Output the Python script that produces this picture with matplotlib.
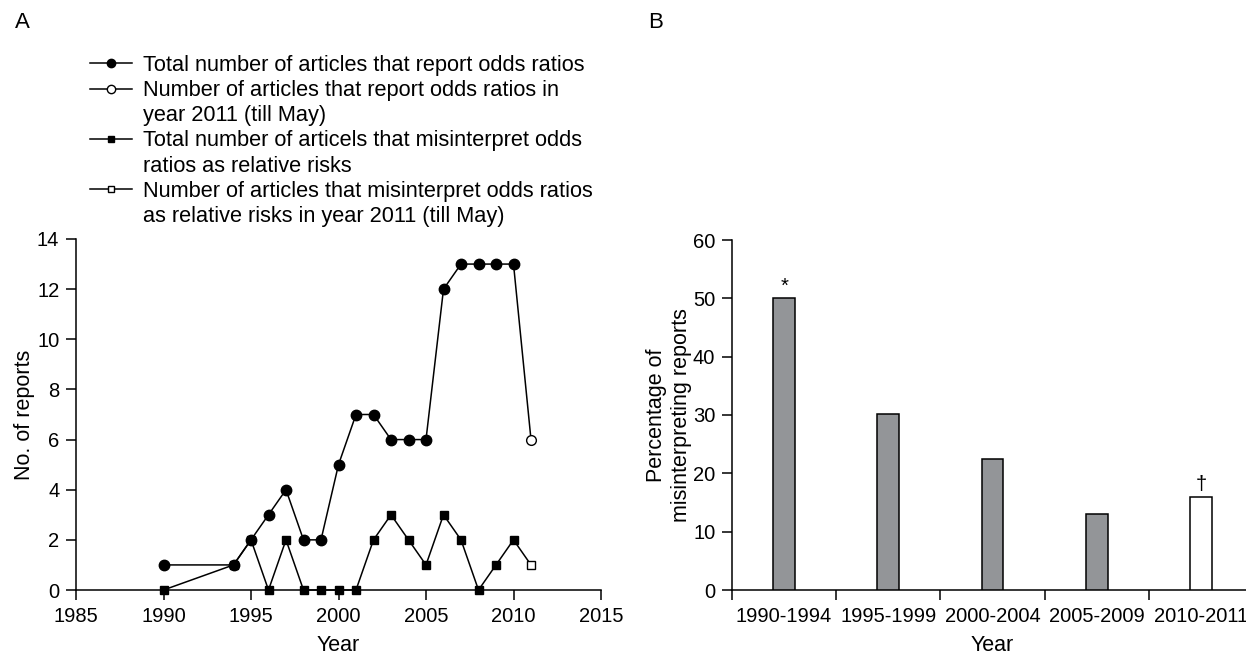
import matplotlib
matplotlib.use("Agg")
import matplotlib.pyplot as plt
from matplotlib.lines import Line2D
import numpy as np

plt.rcParams['font.family'] = ['Liberation Sans', 'DejaVu Sans']

# ---- Panel A data ----
years = [1990, 1994, 1995, 1996, 1997, 1998, 1999, 2000, 2001, 2002, 2003,
         2004, 2005, 2006, 2007, 2008, 2009, 2010, 2011]
total_or = [1, 1, 2, 3, 4, 2, 2, 5, 7, 7, 6, 6, 6, 12, 13, 13, 13, 13, 6]
misinterp = [0, 1, 2, 0, 2, 0, 0, 0, 0, 2, 3, 2, 1, 3, 2, 0, 1, 2, 1]
partial_year = 2011

legend_labels = [
    "Total number of articles that report odds ratios",
    "Number of articles that report odds ratios in",
    "year 2011 (till May)",
    "Total number of articels that misinterpret odds",
    "ratios as relative risks",
    "Number of articles that misinterpret odds ratios",
    "as relative risks in year 2011 (till May)",
]

# ---- Panel B data ----
periods = ["1990-1994", "1995-1999", "2000-2004", "2005-2009", "2010-2011"]
pct_mis = [50.0, 30.2, 22.5, 13.1, 16.0]
bar_notes = {0: "*", 4: "\u2020"}

W, H = 1246, 654
fig = plt.figure(figsize=(W / 100, H / 100), dpi=100)

def px_axes(l, t, r, b):
    return [l / W, 1 - b / H, (r - l) / W, (b - t) / H]

lw = 1.1
tick_fs = 14.5
label_fs = 15.5
gray = "#939598"

# ---------------- Panel A ----------------
axA = fig.add_axes(px_axes(76, 239, 601, 590))
yrs = np.array(years)
full = yrs != partial_year
axA.plot(years, total_or, color="black", lw=lw, zorder=3, clip_on=False)
axA.plot(years, misinterp, color="black", lw=lw, zorder=3, clip_on=False)
axA.plot(yrs[full], np.array(total_or)[full], "o", color="black", ms=7.5,
         zorder=4, clip_on=False)
axA.plot(yrs[~full], np.array(total_or)[~full], "o", mfc="white", mec="black",
         mew=1.0, ms=7, zorder=4, clip_on=False)
axA.plot(yrs[full], np.array(misinterp)[full], "s", color="black", ms=6.3,
         zorder=4, clip_on=False)
axA.plot(yrs[~full], np.array(misinterp)[~full], "s", mfc="white", mec="black",
         mew=1.0, ms=6, zorder=4, clip_on=False)

axA.set_xlim(1985, 2015)
axA.set_ylim(0, 14)
axA.set_xticks(range(1985, 2016, 5))
axA.set_yticks(range(0, 15, 2))
axA.set_xlabel("Year", fontsize=label_fs, labelpad=7)
axA.set_ylabel("No. of reports", fontsize=label_fs, labelpad=1.5)

# ---------------- Panel B ----------------
axB = fig.add_axes(px_axes(732, 240, 1253, 590))
xpos = np.arange(len(periods))
colors = [gray] * (len(periods) - 1) + ["white"]
axB.bar(xpos, pct_mis, width=0.21, color=colors, edgecolor="black",
        linewidth=lw, zorder=3)
for i, s in bar_notes.items():
    axB.text(xpos[i], pct_mis[i] + 0.5, s, ha="center", va="bottom",
             fontsize=tick_fs)
axB.set_xlim(-0.5, len(periods) - 0.5)
axB.set_ylim(0, 60)
axB.set_yticks(range(0, 61, 10))
axB.set_xticks(np.arange(-0.5, len(periods) - 1, 1.0))
axB.set_xticklabels([])
axB.set_xticks(xpos, minor=True)
axB.set_xticklabels(periods, minor=True)
axB.tick_params(axis="x", which="minor", length=0, pad=12)
axB.set_xlabel("Year", fontsize=label_fs, labelpad=7)
axB.set_ylabel("Percentage of\nmisinterpreting reports", fontsize=label_fs,
               labelpad=0.5, linespacing=1.25)

for ax in (axA, axB):
    for s in ("top", "right"):
        ax.spines[s].set_visible(False)
    for s in ("left", "bottom"):
        ax.spines[s].set_linewidth(lw)
    ax.tick_params(which="major", direction="out", length=7, width=lw,
                   labelsize=tick_fs, pad=5, colors="black")
    ax.tick_params(which="minor", labelsize=tick_fs)

# ---------------- Legend ----------------
blank = Line2D([], [], linestyle="none", marker="none")
handles = [
    Line2D([], [], color="black", lw=lw, marker="o", ms=6),
    Line2D([], [], color="black", lw=lw, marker="o", ms=6, mfc="white"),
    blank,
    Line2D([], [], color="black", lw=lw, marker="s", ms=4.5),
    blank,
    Line2D([], [], color="black", lw=lw, marker="s", ms=4.5, mfc="white"),
    blank,
]
fig.legend(handles, legend_labels, loc="upper left",
           bbox_to_anchor=(90 / W, 1 - 55 / H), frameon=False,
           fontsize=15.7, handlelength=1.92, handletextpad=0.5,
           borderpad=0, borderaxespad=0, labelspacing=0.19)

fig.text(22 / W, 1 - 22 / H, "A", fontsize=16, ha="center", va="center")
fig.text(656 / W, 1 - 22 / H, "B", fontsize=16, ha="center", va="center")

fig.savefig("out.png", dpi=100)
